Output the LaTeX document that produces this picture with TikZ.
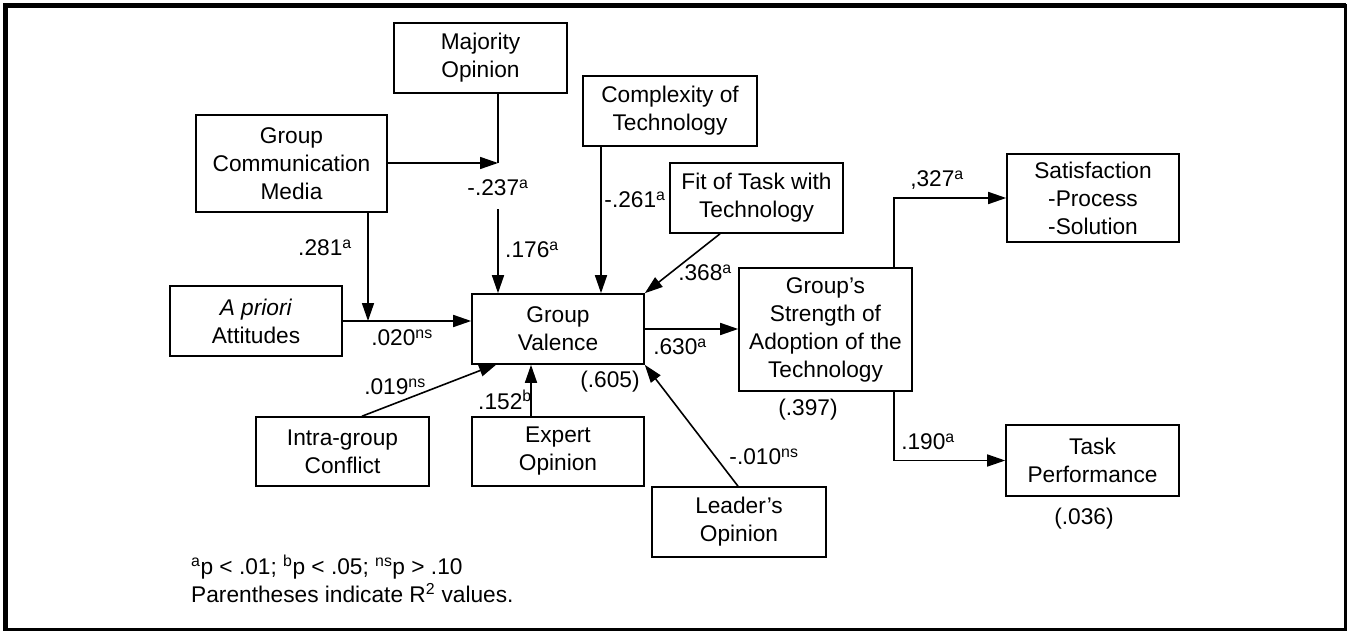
\documentclass[tikz,border=0pt]{standalone}
\usepackage{fontspec}
\setmainfont{Liberation Sans}
\usetikzlibrary{arrows.meta}

\newcommand{\figfont}{\fontsize{22.7}{28}\selectfont}
\newcommand{\sig}[1]{\textsuperscript{#1}}

\tikzset{
  box/.style={draw, line width=1.6pt, align=center, inner sep=0pt, font=\figfont},
  lbl/.style={font=\figfont, inner sep=0pt},
  arr/.style={line width=1.6pt, -{Triangle[length=18pt, width=12pt]}},
  ln/.style={line width=1.6pt}
}

\begin{document}
\begin{tikzpicture}[x=1pt, y=-1pt]
\useasboundingbox (0,0) rectangle (1351,631);

% outer frame: heavier on the left and top
\draw[line width=5pt] (5.5,631) -- (5.5,5.5) -- (1346,5.5);
\draw[line width=3pt] (1345,4) -- (1345,629.5) -- (3,629.5);

% constructs
\node[box, minimum width=173pt, minimum height=70pt] (maj)   at (480.5,58)  {Majority\\Opinion};
\node[box, minimum width=191pt, minimum height=97pt] (gcm)   at (291.5,163.5) {Group\\Communication\\Media};
\node[box, minimum width=174pt, minimum height=70pt] (cplx)  at (670,111)   {Complexity of\\Technology};
\node[box, minimum width=173pt, minimum height=70pt] (fit)   at (756.5,198) {Fit of Task with\\Technology};
\node[box, minimum width=172pt, minimum height=70pt] (apr)   at (256,321)   {\textit{A priori}\\Attitudes};
\node[box, minimum width=172pt, minimum height=70pt] (gv)    at (558,329)   {Group\\Valence};
\node[box, minimum width=173pt, minimum height=123pt] (gs)   at (825.5,329.5) {Group’s\\Strength of\\Adoption of the\\Technology};
\node[box, minimum width=172pt, minimum height=88pt] (sat)   at (1093,198)  {Satisfaction\\-Process\\-Solution};
\node[box, minimum width=173pt, minimum height=71pt] (task)  at (1092.5,460.5) {Task\\Performance};
\node[box, minimum width=173pt, minimum height=69pt] (intra) at (342.5,451.5) {Intra-group\\Conflict};
\node[box, minimum width=172pt, minimum height=69pt] (exp)   at (558,451.5) {Expert\\Opinion};
\node[box, minimum width=174pt, minimum height=70pt] (lead)  at (739,522)   {Leader’s\\Opinion};

% connector anchor points
\coordinate (mjx) at (498,163);
\coordinate (mjr) at (498,209);
\coordinate (gcx) at (368,321);
\coordinate (cx)  at (601,0);
\coordinate (fx)  at (720,0);
\coordinate (sx)  at (894,0);
\coordinate (ix)  at (362,0);
\coordinate (itip) at (497,364);
\coordinate (ex)  at (531,0);
\coordinate (lx)  at (738,0);

% paths
\draw[arr] (gcm.east |- mjx) -- (mjx);
\draw[ln]  (maj.south -| mjx) -- (mjx);
\draw[arr] (mjr) -- (gv.north -| mjr);
\draw[arr] (gcm.south -| gcx) -- (gcx);
\draw[arr] (cplx.south -| cx) -- (gv.north -| cx);
\draw[arr] (fit.south -| fx) -- (gv.north east);
\draw[arr] (apr.east) -- (apr.east -| gv.west);
\draw[arr] (gv.east) -- (gv.east -| gs.west);
\draw[arr] (gs.north -| sx) |- (sat.west);
\draw[arr] (gs.south -| sx) |- (task.west);
\draw[arr] (intra.north -| ix) -- (itip);
\draw[arr] (exp.north -| ex) -- (gv.south -| ex);
\draw[arr] (lead.north -| lx) -- (gv.south east);

% path coefficients
\node[lbl] (c281) at (325,248) {.281\sig{a}};
\node[lbl] (c237) at (498,188) {-.237\sig{a}};
\node[lbl] (c176) at (532,250) {.176\sig{a}};
\node[lbl] (c261) at (635,200) {-.261\sig{a}};
\node[lbl] (c368) at (705,273) {.368\sig{a}};
\node[lbl] (c020) at (402,338) {.020\sig{ns}};
\node[lbl] (c630) at (680,347) {.630\sig{a}};
\node[lbl] (c327) at (937,180) {,327\sig{a}};
\node[lbl] (c190) at (928,442) {.190\sig{a}};
\node[lbl] (c019) at (395,387) {.019\sig{ns}};
\node[lbl] (c152) at (505,400) {.152\sig{b}};
\node[lbl] (c010) at (764,457) {-.010\sig{ns}};

% explained variance
\node[lbl] (r605) at (610,382) {(.605)};
\node[lbl] (r397) at (808,410) {(.397)};
\node[lbl] (r036) at (1084,519) {(.036)};

% notes
\node[lbl, anchor=west] (note1) at (191,567) {\sig{a}p < .01; \sig{b}p < .05; \sig{ns}p > .10};
\node[lbl, anchor=west] (note2) at (191,593) {Parentheses indicate R\sig{2} values.};
\end{tikzpicture}
\end{document}
